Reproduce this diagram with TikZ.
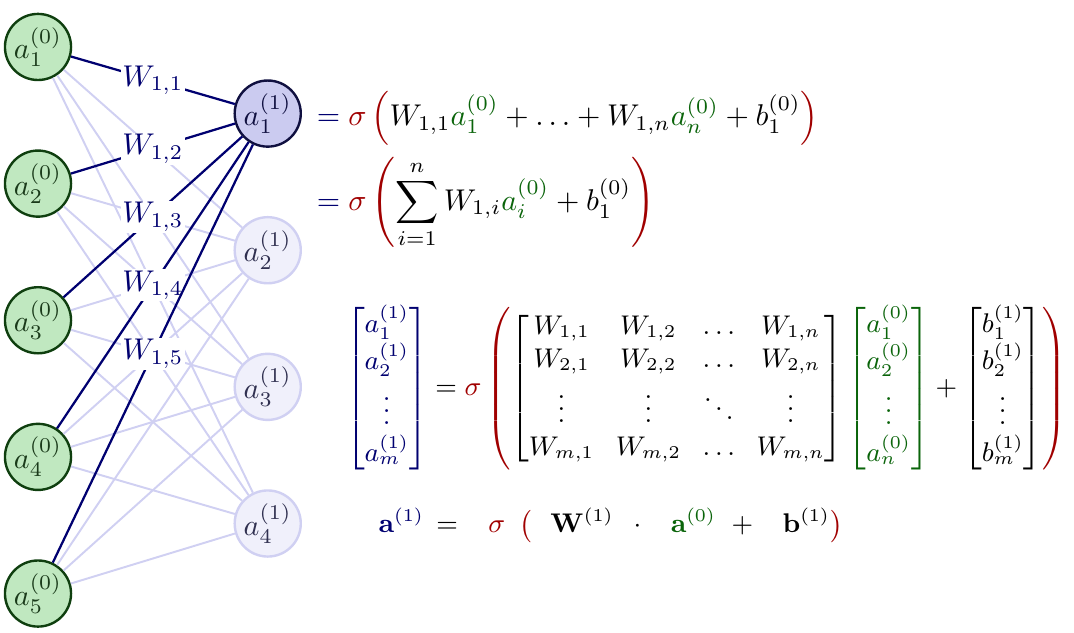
\documentclass[tikz,border=0pt]{standalone}
\usepackage{amsmath,amssymb,amsfonts}
\usepackage{xcolor}
\definecolor{inputfill}{HTML}{C0E8C0}
\definecolor{inputborder}{HTML}{0F3F0F}
\definecolor{inputtext}{HTML}{1A3A1A}
\definecolor{hiddenfill}{HTML}{CBCBF0}
\definecolor{hiddenborder}{HTML}{101040}
\definecolor{fadedfill}{HTML}{F0F0FB}
\definecolor{fadedborder}{HTML}{D0D0F2}
\definecolor{fadedtext}{HTML}{303050}
\definecolor{weightcolor}{HTML}{000070}
\definecolor{sigmacolor}{HTML}{A00000}
\definecolor{actcolor}{HTML}{0A640A}
\usepackage{tikz}
\usetikzlibrary{positioning,arrows.meta,calc}
\tikzset{
    neuron/.style={
        circle,
        minimum size=0.774cm,
        inner sep=0pt,
        line width=0.8pt,
    },
    inputneuron/.style={
        neuron,
        draw=inputborder,
        fill=inputfill,
        text=inputtext,
    },
    activeneuron/.style={
        neuron,
        draw=hiddenborder,
        fill=hiddenfill,
        text=hiddenborder,
    },
    fadedneuron/.style={
        neuron,
        draw=fadedborder,
        fill=fadedfill,
        text=fadedtext,
    },
    weight/.style={
        line width=0.75pt,
        weightcolor,
    },
    fadedweight/.style={
        line width=0.65pt,
        fadedborder,
    },
    wlabel/.style={
        fill=white,
        inner sep=0.5pt,
        text=weightcolor,
    },
    eqn/.style={
        anchor=west,
        inner sep=0pt,
    },
}

\begin{document}
\begin{tikzpicture}
    \useasboundingbox (-0.445, 0.55) rectangle (12.131, -6.862);

    % Input layer
    \foreach \i in {1,...,5} {
        \node[inputneuron] (in-\i) at (0, {-(\i-1)*1.6}) {$a_{\i}^{(0)}$};
    }

    % Hidden layer (only the first neuron is highlighted)
    \node[activeneuron] (hid-1) at (2.69, -0.78) {$a_{1}^{(1)}$};
    \foreach \j in {2,...,4} {
        \node[fadedneuron] (hid-\j) at (2.69, {-0.78-(\j-1)*1.6}) {$a_{\j}^{(1)}$};
    }

    % Faded connections
    \foreach \i in {1,...,5} {
        \foreach \j in {2,...,4} {
            \draw[fadedweight] (in-\i) -- (hid-\j);
        }
    }

    % Weights into a_1^(1)
    \foreach \i in {1,...,5} {
        \draw[weight] (in-\i) -- (hid-1) node[midway, wlabel] {$W_{1,\i}$};
    }

    % Single neuron
    \node[eqn] (single) at (3.16, -1.44) {$\begin{aligned}
        &\color{weightcolor}= \color{sigmacolor}\sigma\left(\color{black} W_{1,1}{\color{actcolor}a_1^{(0)}} + \ldots + W_{1,n}{\color{actcolor}a_n^{(0)}} + b_1^{(0)}\color{sigmacolor}\right)\\
        &\color{weightcolor}= \color{sigmacolor}\sigma\left(\color{black}\sum_{i=1}^{n} W_{1,i}{\color{actcolor}a_i^{(0)}} + b_1^{(0)}\color{sigmacolor}\right)
    \end{aligned}$};

    % Whole layer, matrix form
    \node[eqn, font=\small] (layer) at (3.6, -4.0) {\setlength{\arraycolsep}{3.6pt}$
        {\color{weightcolor}\begin{bmatrix} a_1^{(1)}\\ a_2^{(1)}\\ \vdots\\ a_m^{(1)} \end{bmatrix}}
        = \color{sigmacolor}\sigma\left(\color{black}
        \begin{bmatrix}
            W_{1,1} & W_{1,2} & \ldots & W_{1,n}\\
            W_{2,1} & W_{2,2} & \ldots & W_{2,n}\\
            \vdots & \vdots & \ddots & \vdots\\
            W_{m,1} & W_{m,2} & \ldots & W_{m,n}
        \end{bmatrix}
        {\color{actcolor}\begin{bmatrix} a_1^{(0)}\\ a_2^{(0)}\\ \vdots\\ a_n^{(0)} \end{bmatrix}}
        +
        \begin{bmatrix} b_1^{(1)}\\ b_2^{(1)}\\ \vdots\\ b_m^{(1)} \end{bmatrix}
        \color{sigmacolor}\right)
    $};

    % Compact form
    \node[eqn, font=\small] (compact) at (3.981, -5.6) {$
        {\color{weightcolor}\mathbf{a}^{(1)}}\, = \enspace\
        {\color{sigmacolor}\sigma\ \,\bigl(}\ \ \mathbf{W}^{(1)}\ \,\cdot\ \ \,{\color{actcolor}\mathbf{a}^{(0)}}\ +\ \ \,\mathbf{b}^{(1)}{\color{sigmacolor}\bigr)}
    $};

\end{tikzpicture}
\end{document}
